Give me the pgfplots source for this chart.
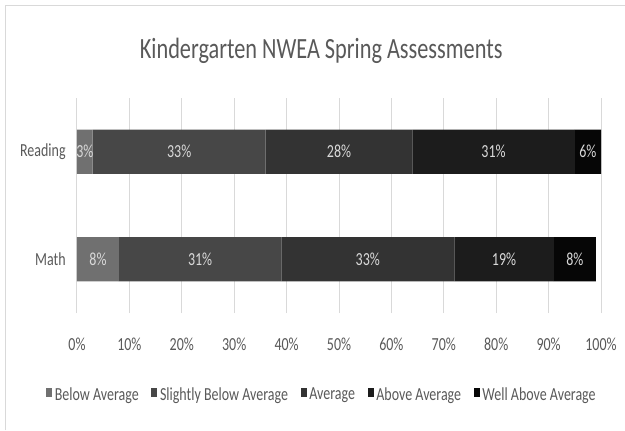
\documentclass[border=0pt]{standalone}
\usepackage{fontspec}
\setmainfont{Carlito}[FakeStretch=0.76]
\usepackage{pgfplots}
\pgfplotsset{compat=1.18}
\definecolor{cBelow}{HTML}{707070}
\definecolor{cSlBelow}{HTML}{474747}
\definecolor{cAvg}{HTML}{333333}
\definecolor{cAbove}{HTML}{1C1C1C}
\definecolor{cWell}{HTML}{060606}
\definecolor{txtgray}{HTML}{595959}
\begin{document}
\begin{tikzpicture}[x=1pt,y=1pt]
\useasboundingbox (0,0) rectangle (468.75,322.5);
\draw[black!15, line width=0.75pt] (3.75,0) -- (3.75,318.75) -- (468.75,318.75);
\begin{axis}[
  at={(57.75pt,87.75pt)}, anchor=south west,
  scale only axis, width=393pt, height=161.25pt,
  xbar stacked, bar width=0.41,
  xmin=0, xmax=100, ymin=-0.5, ymax=1.5,
  ytick={0,1}, yticklabels={Math,Reading},
  xtick={0,10,...,100},
  xticklabel={\pgfmathprintnumber{\tick}\%},
  /pgf/number format/assume math mode=true,
  xmajorgrids, major grid style={black!15, line width=0.75pt},
  axis line style={draw=none}, tick style={draw=none},
  ticklabel style={font=\fontsize{13.8}{15}\selectfont, text=txtgray},
  xticklabel style={yshift=-15pt},
  yticklabel style={xshift=-5pt},
  title={Kindergarten NWEA Spring Assessments},
  title style={at={(0.466,1.18)}, anchor=center, font=\fontsize{22}{24}\selectfont, text=txtgray},
  point meta=explicit symbolic,
  nodes near coords={\pgfplotspointmeta\%},
  every node near coord/.append style={font=\fontsize{13.8}{15}\selectfont, text=white!85!black},
  legend columns=5,
  legend style={draw=none, fill=none, at={(0.468,-0.381)}, anchor=center,
    font=\fontsize{13.8}{15}\selectfont, text=txtgray,
    /tikz/every even column/.append style={column sep=7.5pt},
    /tikz/every odd column/.append style={column sep=0pt}},
  every axis plot/.append style={draw=none, legend image code/.code={\fill[##1] (0pt,-1.2pt) rectangle (4.5pt,5.2pt);}},
]
\addplot[fill=cBelow] coordinates {(8,0)[8] (3,1)[3]};
\addplot[fill=cSlBelow] coordinates {(31,0)[31] (33,1)[33]};
\addplot[fill=cAvg] coordinates {(33,0)[33] (28,1)[28]};
\addplot[fill=cAbove] coordinates {(19,0)[19] (31,1)[31]};
\addplot[fill=cWell] coordinates {(8,0)[8] (5,1)[6]};
\legend{Below Average, Slightly Below Average, Average, Above Average, Well Above Average}
\end{axis}
\end{tikzpicture}
\end{document}
